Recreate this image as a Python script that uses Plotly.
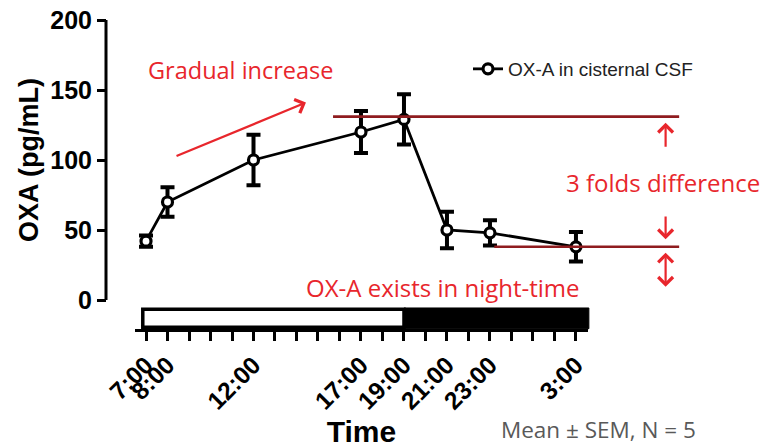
import plotly.graph_objects as go

# ---------------- data ----------------
time_labels = ["7:00", "8:00", "12:00", "17:00", "19:00", "21:00", "23:00", "3:00"]
oxa_mean = [42, 70, 100, 120, 129, 50, 48, 38]
oxa_sem = [4, 10.5, 18, 15, 18, 13, 9, 10.5]
series_name = "OX-A in cisternal CSF"
y_ticks = [0, 50, 100, 150, 200]
ref_levels = [131, 38]          # peak level and night-time low level (pg/mL)
light_phase = [-0.15, 12]       # hours after 7:00
dark_phase = [12, 20.6]

# hours elapsed since 7:00 for each sampling time
hours = [(int(t.split(":")[0]) - 7) % 24 for t in time_labels]

# ---------------- layout geometry ----------------
W, H = 765, 448
ML, MR, MT, MB = 106, 3, 20, 118
PW, PH = W - ML - MR, H - MT - MB
XDOM = [29 / PW, 482 / PW]
YDOM = [30 / PH, 1.0]
XR = [-0.512, 20.56]
YR = [0, 200]


def xp(h):
    return XDOM[0] + (h - XR[0]) / (XR[1] - XR[0]) * (XDOM[1] - XDOM[0])


def yp(v):
    return YDOM[0] + (v - YR[0]) / (YR[1] - YR[0]) * (YDOM[1] - YDOM[0])


RED = "#E8262C"
DARKRED = "#8F1C1F"
AX_FONT = "Liberation Sans"
RED_FONT = "Open Sans"

fig = go.Figure()
fig.add_trace(go.Scatter(
    x=hours, y=oxa_mean, name=series_name, mode="lines+markers",
    line=dict(color="black", width=2.8),
    marker=dict(symbol="circle", size=10, color="white",
                line=dict(color="black", width=3.2)),
    error_y=dict(type="data", array=oxa_sem, visible=True,
                 color="black", thickness=4, width=7),
    cliponaxis=False,
))

shapes = []
# reference lines (peak & trough)
shapes.append(dict(type="line", xref="paper", yref="paper",
                   x0=xp(8.7), x1=xp(24.8), y0=yp(ref_levels[0]), y1=yp(ref_levels[0]),
                   line=dict(color=DARKRED, width=2.6)))
shapes.append(dict(type="line", xref="paper", yref="paper",
                   x0=xp(16.2), x1=xp(24.8), y0=yp(ref_levels[1]), y1=yp(ref_levels[1]),
                   line=dict(color=DARKRED, width=2.6)))
# light / dark bar
shapes.append(dict(type="rect", xref="paper", yref="paper",
                   x0=xp(dark_phase[0]), x1=xp(dark_phase[1]), y0=yp(-20.5), y1=yp(-5.7),
                   line=dict(color="black", width=1), fillcolor="black", layer="above"))
shapes.append(dict(type="rect", xref="paper", yref="paper",
                   x0=xp(light_phase[0]), x1=xp(light_phase[1]), y0=yp(-19.5), y1=yp(-6.6),
                   line=dict(color="black", width=3.5), fillcolor="white", layer="above"))
# y axis line (only from 0 to 200)
shapes.append(dict(type="line", xref="paper", yref="paper",
                   x0=0, x1=0, y0=yp(0), y1=yp(200),
                   line=dict(color="black", width=3)))

annotations = []


def red_text(text, h, v, size=23.5, color=RED, family=RED_FONT):
    annotations.append(dict(text=text, xref="paper", yref="paper", x=xp(h), y=yp(v),
                            showarrow=False, xanchor="center", yanchor="middle",
                            font=dict(family=family, size=size, color=color)))


def red_arrow(h0, v0, h1, v1, both=False):
    dx = (xp(h0) - xp(h1)) * PW
    dy = -(yp(v0) - yp(v1)) * PH
    annotations.append(dict(text="", xref="paper", yref="paper", axref="pixel", ayref="pixel",
                            x=xp(h1), y=yp(v1), ax=dx, ay=dy,
                            showarrow=True, arrowhead=4, arrowsize=1.3, arrowwidth=2.2,
                            arrowcolor=RED, arrowside="end+start" if both else "end",
                            startarrowhead=4, startarrowsize=1.3))


red_text("Gradual increase", 4.4, 164)
red_arrow(1.35, 102.4, 7.44, 141)
red_text("3 folds difference", 24.05, 83.6, size=24)
red_text("OX-A exists in night-time", 13.8, 8.6, size=24)
red_arrow(24.17, 108.4, 24.17, 126.6)
red_arrow(24.17, 60.7, 24.17, 43.4)
red_arrow(24.17, 8.4, 24.17, 33.8, both=True)
annotations.append(dict(text="Mean ± SEM, N = 5", xref="paper", yref="paper",
                        x=(598 - ML) / PW, y=(330 - 447) / PH, showarrow=False,
                        xanchor="center", yanchor="bottom",
                        font=dict(family=RED_FONT, size=22.5, color="#595959")))

tick_text = []
for k in range(21):
    tick_text.append(time_labels[hours.index(k)] if k in hours else "")

fig.update_layout(
    width=W, height=H,
    margin=dict(l=ML, r=MR, t=MT, b=MB, pad=0, autoexpand=False),
    paper_bgcolor="white", plot_bgcolor="white",
    showlegend=True,
    legend=dict(x=(468 - ML) / PW, y=(330 - 50) / PH, xanchor="left", yanchor="top",
                bgcolor="rgba(0,0,0,0)", font=dict(family=AX_FONT, size=19, color="#222222"),
                itemwidth=30),
    xaxis=dict(domain=XDOM, range=XR, anchor="free", position=0, automargin=False,
               tickvals=list(range(21)), ticktext=tick_text, tickangle=-45,
               ticks="outside", ticklen=9, tickwidth=3, tickcolor="black",
               showline=True, linewidth=3, linecolor="black",
               showgrid=False, zeroline=False,
               tickfont=dict(family=AX_FONT, size=24.5, color="black", weight="bold"),
               title=dict(text="Time", standoff=15,
                          font=dict(family=AX_FONT, size=30, color="black", weight="bold"))),
    yaxis=dict(domain=YDOM, range=YR, anchor="free", position=0, automargin=False,
               tickvals=y_ticks, ticks="outside", ticklen=9, tickwidth=3, tickcolor="black",
               showline=False, showgrid=False, zeroline=False,
               tickfont=dict(family=AX_FONT, size=25, color="black", weight="bold"),
               title=dict(text="OXA (pg/mL)", standoff=2,
                          font=dict(family=AX_FONT, size=27, color="black", weight="bold"))),
    shapes=shapes, annotations=annotations,
)

fig.write_html("out.html")
